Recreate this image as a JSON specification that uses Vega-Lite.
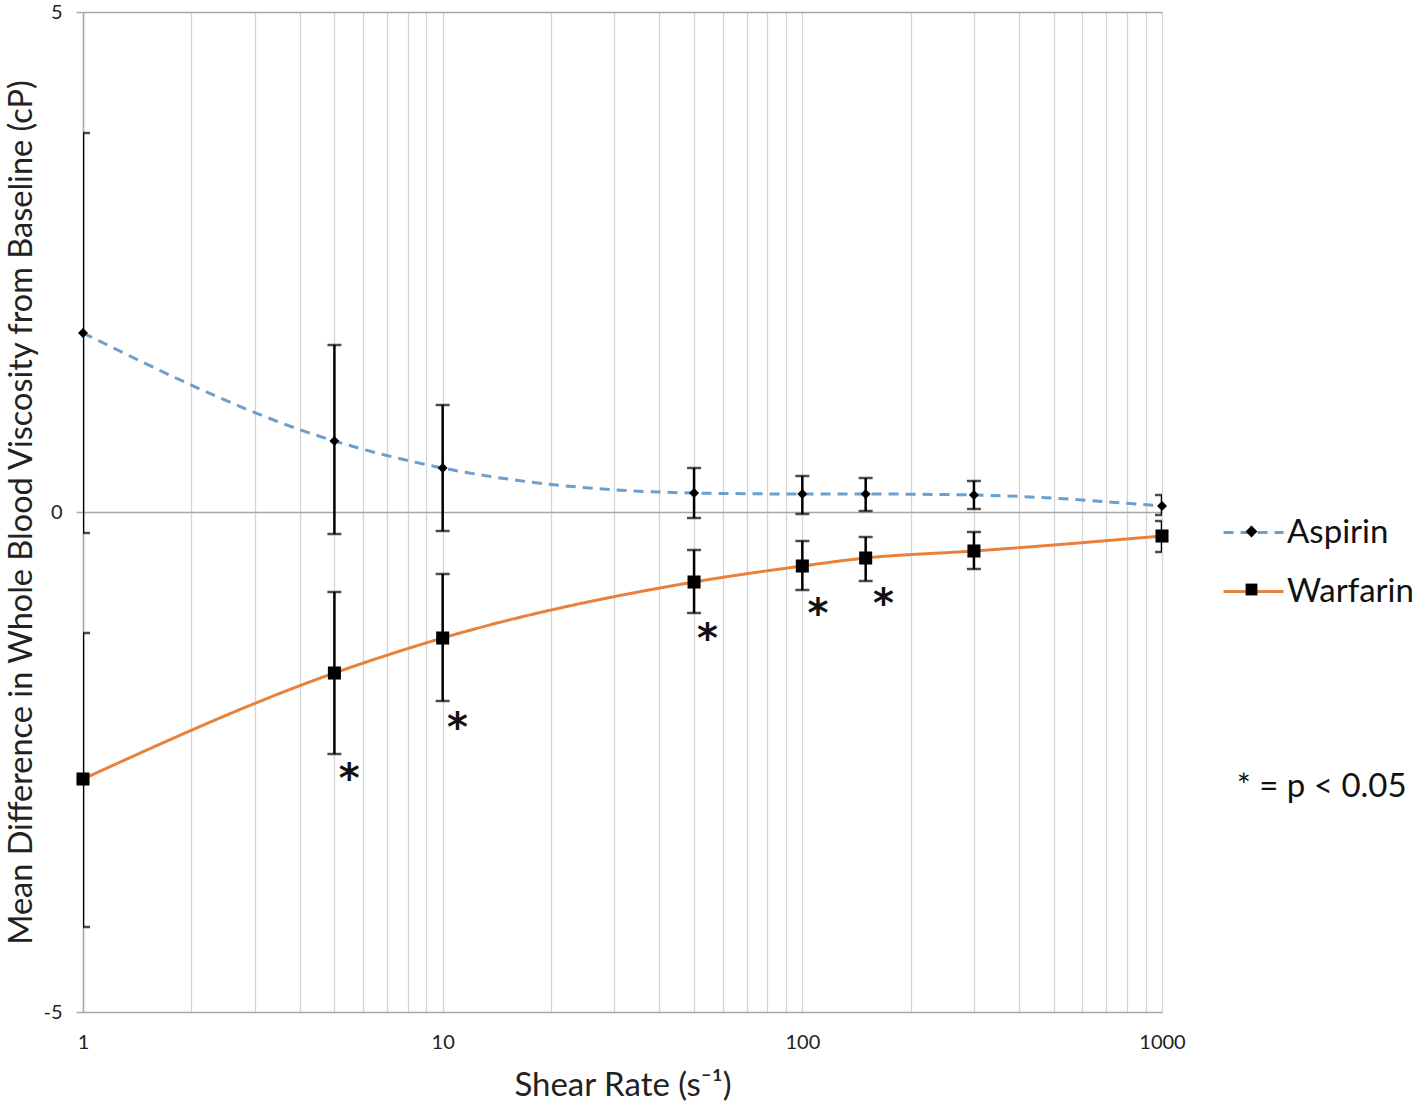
{
  "$schema": "https://vega.github.io/schema/vega-lite/v6.json",
  "autosize": "none",
  "width": 1079,
  "height": 1000,
  "padding": {"left": 83, "top": 12, "right": 256, "bottom": 94},
  "background": "white",
  "config": {
    "view": {"stroke": null},
    "font": "Lato",
    "text": {"font": "Lato"}
  },
  "datasets": {
    "series": [
      {"drug": "Aspirin", "shear": 1, "mean": 1.79, "lo": -0.21, "hi": 3.79},
      {"drug": "Aspirin", "shear": 5, "mean": 0.71, "lo": -0.22, "hi": 1.67},
      {"drug": "Aspirin", "shear": 10, "mean": 0.44, "lo": -0.19, "hi": 1.07},
      {"drug": "Aspirin", "shear": 50, "mean": 0.19, "lo": -0.06, "hi": 0.44},
      {"drug": "Aspirin", "shear": 100, "mean": 0.18, "lo": -0.02, "hi": 0.36},
      {"drug": "Aspirin", "shear": 150, "mean": 0.18, "lo": 0.01, "hi": 0.34},
      {"drug": "Aspirin", "shear": 300, "mean": 0.17, "lo": 0.03, "hi": 0.31},
      {"drug": "Aspirin", "shear": 1000, "mean": 0.06, "lo": -0.03, "hi": 0.17},
      {"drug": "Warfarin", "shear": 1, "mean": -2.67, "lo": -4.15, "hi": -1.21},
      {"drug": "Warfarin", "shear": 5, "mean": -1.61, "lo": -2.42, "hi": -0.8},
      {"drug": "Warfarin", "shear": 10, "mean": -1.26, "lo": -1.89, "hi": -0.62},
      {"drug": "Warfarin", "shear": 50, "mean": -0.7, "lo": -1.01, "hi": -0.38},
      {"drug": "Warfarin", "shear": 100, "mean": -0.54, "lo": -0.78, "hi": -0.29},
      {"drug": "Warfarin", "shear": 150, "mean": -0.46, "lo": -0.69, "hi": -0.25},
      {"drug": "Warfarin", "shear": 300, "mean": -0.39, "lo": -0.57, "hi": -0.2},
      {"drug": "Warfarin", "shear": 1000, "mean": -0.24, "lo": -0.4, "hi": -0.09}
    ],
    "stars": [
      {"shear": 5.5, "y": -2.61, "label": "*"},
      {"shear": 11.0, "y": -2.1, "label": "*"},
      {"shear": 54.5, "y": -1.21, "label": "*"},
      {"shear": 110.5, "y": -0.96, "label": "*"},
      {"shear": 168, "y": -0.86, "label": "*"}
    ],
    "note": [
      {"shear": 2780, "y": -2.75, "label": "* = p < 0.05"}
    ]
  },
  "layer": [
    {
      "data": {"name": "series"},
      "mark": {"type": "line", "interpolate": "monotone", "strokeWidth": 3, "clip": true},
      "encoding": {
        "x": {
          "field": "shear", "type": "quantitative",
          "title": "Shear Rate (s⁻¹)",
          "scale": {"type": "log", "domain": [1, 1000], "nice": false},
          "axis": {
            "values": [1,2,3,4,5,6,7,8,9,10,20,30,40,50,60,70,80,90,100,200,300,400,500,600,700,800,900,1000],
            "labelExpr": "datum.value == 1 || datum.value == 10 || datum.value == 100 || datum.value == 1000 ? datum.value : ''",
            "labelFlush": false,
            "grid": true, "gridColor": "#d4d4d4", "gridWidth": 1.3,
            "ticks": false, "domain": false,
            "labelFontSize": 20, "labelColor": "#222", "labelPadding": 20, "labelFont": "Lato",
            "titleFontSize": 33, "titleFontWeight": "normal", "titleColor": "#222", "titleFont": "Lato",
            "titleY": 73, "titleBaseline": "middle"
          }
        },
        "y": {
          "field": "mean", "type": "quantitative",
          "title": "Mean Difference in Whole Blood Viscosity from Baseline (cP)",
          "scale": {"domain": [-5, 5], "nice": false},
          "axis": {
            "values": [-5, 0, 5],
            "labelExpr": "datum.value < 0 ? '-' + abs(datum.value) : '' + datum.value",
            "grid": true, "gridColor": "#a8a8a8", "gridWidth": 1.5,
            "ticks": true, "tickSize": 7, "tickColor": "#a8a8a8", "tickWidth": 1.5,
            "domain": true, "domainColor": "#a8a8a8", "domainWidth": 1.5,
            "labelFontSize": 20, "labelColor": "#222", "labelPadding": 14, "labelFont": "Lato",
            "titleFontSize": 32.5, "titleFontWeight": "normal", "titleColor": "#222", "titleFont": "Lato",
            "titleX": -62, "titleY": 500, "titleAlign": "center", "titleBaseline": "middle"
          }
        },
        "color": {
          "field": "drug", "type": "nominal",
          "scale": {"domain": ["Aspirin", "Warfarin"], "range": ["#6a9fcf", "#e8823a"]},
          "legend": {
            "orient": "none", "legendX": 1139, "legendY": 489,
            "title": null,
            "symbolType": "stroke",
            "symbolSize": 3600, "symbolStrokeWidth": 3,
            "labelFontSize": 33, "labelFont": "Lato", "labelColor": "#111",
            "labelOffset": 2, "rowPadding": 10
          }
        },
        "strokeDash": {
          "field": "drug", "type": "nominal",
          "scale": {"domain": ["Aspirin", "Warfarin"], "range": [[10, 7], [1, 0]]}
        }
      }
    },
    {
      "data": {"name": "series"},
      "mark": {"type": "errorbar", "ticks": {"size": 14, "thickness": 2.5, "color": "black"}, "rule": {"strokeWidth": 2.5, "color": "black"}, "clip": true},
      "encoding": {
        "x": {"field": "shear", "type": "quantitative", "title": "Shear Rate (s⁻¹)"},
        "y": {"field": "lo", "type": "quantitative", "title": "Mean Difference in Whole Blood Viscosity from Baseline (cP)"},
        "y2": {"field": "hi"}
      }
    },
    {
      "data": {"name": "series"},
      "transform": [{"filter": "datum.drug === 'Aspirin'"}],
      "mark": {"type": "point", "filled": true, "color": "black", "opacity": 1, "size": 100, "clip": false},
      "encoding": {
        "x": {"field": "shear", "type": "quantitative", "title": "Shear Rate (s⁻¹)"},
        "y": {"field": "mean", "type": "quantitative", "title": "Mean Difference in Whole Blood Viscosity from Baseline (cP)"},
        "shape": {
          "field": "drug", "type": "nominal",
          "scale": {"domain": ["Warfarin", "Aspirin"], "range": ["square", "diamond"]},
          "legend": {
            "orient": "none", "legendX": 1153, "legendY": 504,
            "title": null, "values": ["Aspirin", "Warfarin"],
            "symbolSize": 140, "symbolFillColor": "black", "symbolStrokeColor": "black", "symbolStrokeWidth": 0,
            "labelFontSize": 31, "labelFont": "Lato", "labelExpr": "''",
            "labelOffset": 0, "rowPadding": 26
          }
        }
      }
    },
    {
      "data": {"name": "series"},
      "transform": [{"filter": "datum.drug === 'Warfarin'"}],
      "mark": {"type": "point", "filled": true, "color": "black", "opacity": 1, "size": 170, "clip": false},
      "encoding": {
        "x": {"field": "shear", "type": "quantitative", "title": "Shear Rate (s⁻¹)"},
        "y": {"field": "mean", "type": "quantitative", "title": "Mean Difference in Whole Blood Viscosity from Baseline (cP)"},
        "shape": {"field": "drug", "type": "nominal"}
      }
    },
    {
      "data": {"name": "stars"},
      "mark": {"type": "text", "fontSize": 40, "font": "DejaVu Sans", "fontWeight": "bold", "color": "#111", "baseline": "middle", "dy": 7},
      "encoding": {
        "x": {"field": "shear", "type": "quantitative", "title": "Shear Rate (s⁻¹)"},
        "y": {"field": "y", "type": "quantitative", "title": "Mean Difference in Whole Blood Viscosity from Baseline (cP)"},
        "text": {"field": "label"}
      }
    },
    {
      "data": {"name": "note"},
      "mark": {"type": "text", "fontSize": 33, "font": "Lato", "color": "#111", "baseline": "middle", "align": "center"},
      "encoding": {
        "x": {"field": "shear", "type": "quantitative", "title": "Shear Rate (s⁻¹)"},
        "y": {"field": "y", "type": "quantitative", "title": "Mean Difference in Whole Blood Viscosity from Baseline (cP)"},
        "text": {"field": "label"}
      }
    }
  ]
}
